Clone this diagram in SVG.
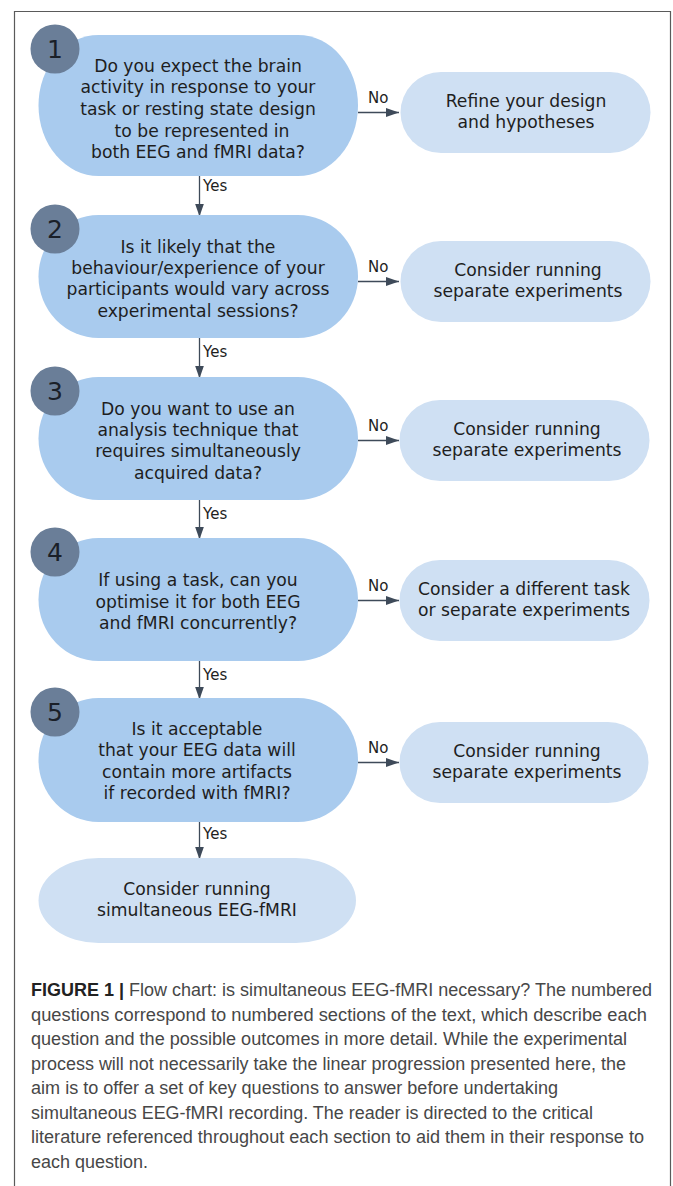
<svg xmlns="http://www.w3.org/2000/svg" width="673" height="1186" viewBox="0 0 673 1186">
  <defs>
    <style>
      .q { fill: #a9cbee; }
      .r { fill: #cfe0f3; }
      .badge { fill: #6a7e98; }
      .num { font-family: "DejaVu Sans", Verdana, sans-serif; font-size: 25px; fill: #1a1f28; text-anchor: middle; }
      .t { font-family: "DejaVu Sans", Verdana, sans-serif; font-size: 17.2px; fill: #1e1e1e; text-anchor: middle; }
      .lbl { font-family: "DejaVu Sans", Verdana, sans-serif; font-size: 15px; fill: #1e1e1e; }
      .conn { stroke: #3e4a59; stroke-width: 1.3; fill: none; }
      .cap { font-family: "Liberation Sans", Arial, sans-serif; font-size: 17.5px; fill: #474747; }
      .frame { stroke: #5a5a5a; stroke-width: 1.2; fill: none; }
    </style>
    <marker id="ah" markerUnits="userSpaceOnUse" markerWidth="14" markerHeight="10" refX="13" refY="4.5" orient="auto">
      <path d="M0,0 L13,4.5 L0,9 Z" fill="#3e4a59"/>
    </marker>
  </defs>

  <rect width="673" height="1186" fill="#ffffff"/>
  <path class="frame" d="M14.5,1186 L14.5,11.5 L670.5,11.5 L670.5,1186"/>

  <g id="connectors">
    <line class="conn" x1="358" y1="112.5" x2="399" y2="112.5" marker-end="url(#ah)"/>
    <text class="lbl" x="368" y="103">No</text>
    <line class="conn" x1="199.5" y1="176" x2="199.5" y2="216.5" marker-end="url(#ah)"/>
    <text class="lbl" x="203" y="191">Yes</text>

    <line class="conn" x1="358" y1="281.5" x2="399" y2="281.5" marker-end="url(#ah)"/>
    <text class="lbl" x="368" y="272">No</text>
    <line class="conn" x1="199.5" y1="338" x2="199.5" y2="378.5" marker-end="url(#ah)"/>
    <text class="lbl" x="203" y="357">Yes</text>

    <line class="conn" x1="358" y1="440.5" x2="399" y2="440.5" marker-end="url(#ah)"/>
    <text class="lbl" x="368" y="431">No</text>
    <line class="conn" x1="199.5" y1="500" x2="199.5" y2="539.5" marker-end="url(#ah)"/>
    <text class="lbl" x="203" y="519">Yes</text>

    <line class="conn" x1="358" y1="600.5" x2="399" y2="600.5" marker-end="url(#ah)"/>
    <text class="lbl" x="368" y="591">No</text>
    <line class="conn" x1="199.5" y1="661" x2="199.5" y2="699.5" marker-end="url(#ah)"/>
    <text class="lbl" x="203" y="680">Yes</text>

    <line class="conn" x1="358" y1="762.5" x2="399" y2="762.5" marker-end="url(#ah)"/>
    <text class="lbl" x="368" y="753">No</text>
    <line class="conn" x1="199.5" y1="822" x2="199.5" y2="859.5" marker-end="url(#ah)"/>
    <text class="lbl" x="203" y="839">Yes</text>
  </g>

  <g id="q1">
    <rect class="q" x="38.5" y="35" width="319.5" height="141" rx="60" ry="70.5"/>
    <circle class="badge" cx="55" cy="49" r="24.5"/>
    <text class="num" x="55" y="58">1</text>
    <text class="t" x="198" y="71.7">Do you expect the brain</text>
    <text class="t" x="198" y="93.3">activity in response to your</text>
    <text class="t" x="198" y="114.9">task or resting state design</text>
    <text class="t" x="202" y="136.5">to be represented in</text>
    <text class="t" x="198" y="158">both EEG and fMRI data?</text>
  </g>
  <g id="r1">
    <rect class="r" x="400.5" y="72" width="250" height="81" rx="40.5" ry="40.5"/>
    <text class="t" x="526" y="107">Refine your design</text>
    <text class="t" x="526" y="128">and hypotheses</text>
  </g>

  <g id="q2">
    <rect class="q" x="38.5" y="215" width="319.5" height="123" rx="60" ry="61.5"/>
    <circle class="badge" cx="55" cy="229" r="24.5"/>
    <text class="num" x="55" y="238">2</text>
    <text class="t" x="198" y="252.7">Is it likely that the</text>
    <text class="t" x="198" y="274">behaviour/experience of your</text>
    <text class="t" x="198" y="295.3">participants would vary across</text>
    <text class="t" x="198" y="316.7">experimental sessions?</text>
  </g>
  <g id="r2">
    <rect class="r" x="400.5" y="241" width="250" height="81" rx="40.5" ry="40.5"/>
    <text class="t" x="528" y="276">Consider running</text>
    <text class="t" x="528" y="297">separate experiments</text>
  </g>

  <g id="q3">
    <rect class="q" x="38.5" y="377" width="319.5" height="123" rx="60" ry="61.5"/>
    <circle class="badge" cx="55" cy="391" r="24.5"/>
    <text class="num" x="55" y="400">3</text>
    <text class="t" x="198" y="414.7">Do you want to use an</text>
    <text class="t" x="198" y="436">analysis technique that</text>
    <text class="t" x="198" y="457.3">requires simultaneously</text>
    <text class="t" x="198" y="478.7">acquired data?</text>
  </g>
  <g id="r3">
    <rect class="r" x="399.5" y="400" width="250" height="81" rx="40.5" ry="40.5"/>
    <text class="t" x="527" y="435">Consider running</text>
    <text class="t" x="527" y="456">separate experiments</text>
  </g>

  <g id="q4">
    <rect class="q" x="38.5" y="538" width="319.5" height="123" rx="60" ry="61.5"/>
    <circle class="badge" cx="55" cy="552" r="24.5"/>
    <text class="num" x="55" y="561">4</text>
    <text class="t" x="198" y="586.4">If using a task, can you</text>
    <text class="t" x="198" y="607.7">optimise it for both EEG</text>
    <text class="t" x="198" y="629">and fMRI concurrently?</text>
  </g>
  <g id="r4">
    <rect class="r" x="399.5" y="560" width="250" height="81" rx="40.5" ry="40.5"/>
    <text class="t" x="524" y="595">Consider a different task</text>
    <text class="t" x="524" y="616">or separate experiments</text>
  </g>

  <g id="q5">
    <rect class="q" x="38.5" y="698" width="319.5" height="124" rx="60" ry="62"/>
    <circle class="badge" cx="55" cy="712" r="24.5"/>
    <text class="num" x="55" y="721">5</text>
    <text class="t" x="197" y="735">Is it acceptable</text>
    <text class="t" x="197" y="756.3">that your EEG data will</text>
    <text class="t" x="197" y="777.7">contain more artifacts</text>
    <text class="t" x="197" y="799">if recorded with fMRI?</text>
  </g>
  <g id="r5">
    <rect class="r" x="399.5" y="722" width="249" height="81" rx="40.5" ry="40.5"/>
    <text class="t" x="527" y="757">Consider running</text>
    <text class="t" x="527" y="778">separate experiments</text>
  </g>

  <g id="final">
    <rect class="r" x="38.5" y="858" width="317.5" height="85" rx="60" ry="42.5"/>
    <text class="t" x="197" y="895">Consider running</text>
    <text class="t" x="197" y="916">simultaneous EEG-fMRI</text>
  </g>

  <g id="caption" class="cap">
    <text x="31" y="996" textLength="621" lengthAdjust="spacingAndGlyphs"><tspan font-weight="bold" fill="#222">FIGURE 1 |</tspan> Flow chart: is simultaneous EEG-fMRI necessary? The numbered</text>
    <text x="31" y="1020.5" textLength="616" lengthAdjust="spacingAndGlyphs">questions correspond to numbered sections of the text, which describe each</text>
    <text x="31" y="1045" textLength="596" lengthAdjust="spacingAndGlyphs">question and the possible outcomes in more detail. While the experimental</text>
    <text x="31" y="1069.5" textLength="595" lengthAdjust="spacingAndGlyphs">process will not necessarily take the linear progression presented here, the</text>
    <text x="31" y="1094" textLength="527" lengthAdjust="spacingAndGlyphs">aim is to offer a set of key questions to answer before undertaking</text>
    <text x="31" y="1118.5" textLength="562" lengthAdjust="spacingAndGlyphs">simultaneous EEG-fMRI recording. The reader is directed to the critical</text>
    <text x="31" y="1143" textLength="613" lengthAdjust="spacingAndGlyphs">literature referenced throughout each section to aid them in their response to</text>
    <text x="31" y="1167.5" textLength="117" lengthAdjust="spacingAndGlyphs">each question.</text>
  </g>
</svg>
